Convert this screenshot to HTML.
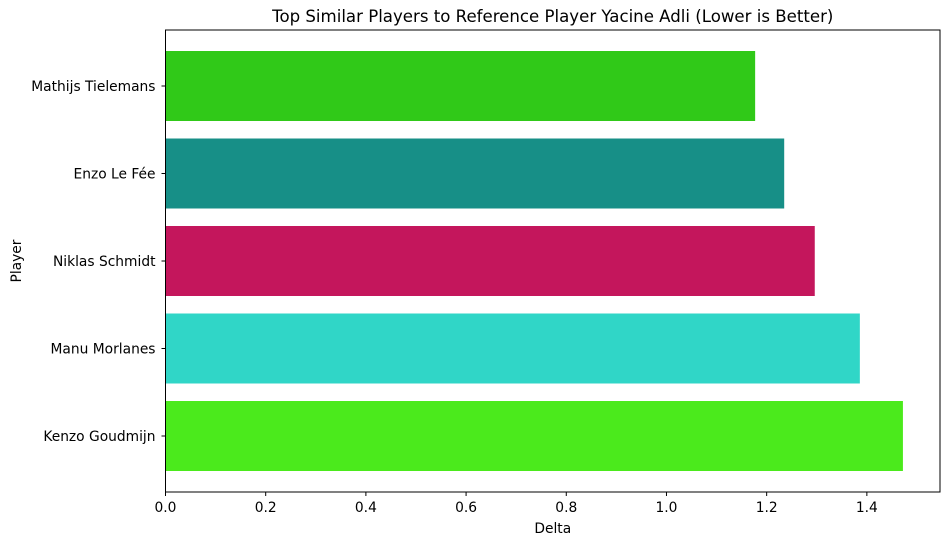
<!DOCTYPE html>
<html><head><meta charset="utf-8"><style>
body{margin:0;background:#fff;font-family:"Liberation Sans","DejaVu Sans",sans-serif}
svg text{font-family:"DejaVu Sans","Liberation Sans",sans-serif;fill:#000}
</style></head><body>
<svg id="c" width="949" height="545"></svg>
<script>
const players=["Mathijs Tielemans","Enzo Le Fée","Niklas Schmidt","Manu Morlanes","Kenzo Goudmijn"];
const deltas=[1.177,1.235,1.296,1.386,1.472];
const colors=["#30c918","#178f87","#c4165c","#30d6c7","#4bea1c"];
const xTicks=[0,0.2,0.4,0.6,0.8,1.0,1.2,1.4];
const L=165.5,R=940,T=30,B=492,xmax=1.546;
const x=v=>L+v/xmax*(R-L);
const yc=i=>86+i*87.5, bh=70;
const s=document.getElementById('c'),NS="http://www.w3.org/2000/svg";
function mk(t,a,txt){const e=document.createElementNS(NS,t);for(const k in a)e.setAttribute(k,a[k]);if(txt!=null)e.textContent=txt;s.appendChild(e);return e;}
players.forEach((p,i)=>{
 const r=mk('rect',{x:x(0),y:yc(i)-bh/2,width:x(deltas[i])-x(0),height:bh,fill:colors[i]});
 
 
 const t=mk('text',{x:L-10,y:yc(i)+5,'text-anchor':'end','font-size':13.8},p);
 
 
 mk('line',{x1:L-4,x2:L,y1:yc(i),y2:yc(i),stroke:'#000'});
});
xTicks.forEach(v=>{
 mk('line',{x1:x(v),x2:x(v),y1:B,y2:B+4,stroke:'#000'});
 const t=mk('text',{x:x(v),y:B+20,'text-anchor':'middle','font-size':13.8},v.toFixed(1));
 
 
});
const f=mk('rect',{x:L,y:T,width:R-L,height:B-T,fill:'none',stroke:'#000','stroke-width':1});


const ti=mk('text',{x:(L+R)/2,y:T-8,'text-anchor':'middle','font-size':16.6},'Top Similar Players to Reference Player Yacine Adli (Lower is Better)');


const xl=mk('text',{x:(L+R)/2,y:533,'text-anchor':'middle','font-size':13.8},'Delta');


const yl=mk('text',{x:21,y:(T+B)/2,'text-anchor':'middle','font-size':13.8,transform:`rotate(-90 21 ${(T+B)/2})`},'Player');


</script>
</body></html>
